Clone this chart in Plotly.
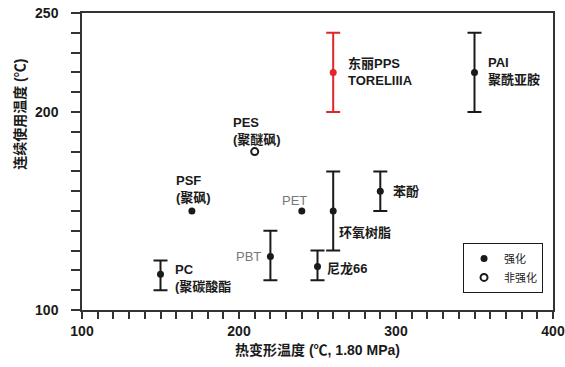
import plotly.graph_objects as go

# ---- data ----
names = ["PC", "PSF", "PES", "PBT", "PET", "尼龙66", "环氧树脂", "苯酚", "东丽PPS", "PAI"]
hdt = [150, 170, 210, 220, 240, 250, 260, 290, 260, 350]          # 热变形温度 (℃)
temp = [118, 150, 180, 127, 150, 122, 150, 160, 220, 220]         # 连续使用温度 (℃)
low = [110, None, None, 115, None, 115, 130, 150, 200, 200]
high = [125, None, None, 140, None, 130, 170, 170, 240, 240]
reinforced = [True, True, False, True, True, True, True, True, True, True]
highlight = ["东丽PPS"]

labels = {
    "PC": "PC<br>(聚碳酸酯",
    "PSF": "PSF<br>(聚砜)",
    "PES": "PES<br>(聚醚砜)",
    "PBT": "PBT",
    "PET": "PET",
    "尼龙66": "尼龙66",
    "环氧树脂": "环氧树脂",
    "苯酚": "苯酚",
    "东丽PPS": "东丽PPS<br>TORELIIIA",
    "PAI": "PAI<br>聚酰亚胺",
}
# label placement: (xanchor, xshift, yshift, grey?)
label_pos = {
    "PC": ("left", 12, -4, False),
    "PSF": ("left", -18, 22, False),
    "PES": ("left", -24, 21, False),
    "PBT": ("right", -7, 0, True),
    "PET": ("center", -7, 11, True),
    "尼龙66": ("left", 7, -2, False),
    "环氧树脂": ("left", 4, -21, False),
    "苯酚": ("left", 11, 0, False),
    "东丽PPS": ("left", 13, 0, False),
    "PAI": ("left", 11, 1, False),
}

FONT = "Liberation Sans, Arial, Noto Sans CJK SC, sans-serif"
INK = "#1a1a1a"
RED = "#e0262b"

fig = go.Figure()

def add_err(idx, color):
    xs = [hdt[i] for i in idx]
    ys = [temp[i] for i in idx]
    up = [high[i] - temp[i] for i in idx]
    dn = [temp[i] - low[i] for i in idx]
    fig.add_trace(go.Scatter(
        x=xs, y=ys, mode="markers", showlegend=False, hoverinfo="skip",
        marker=dict(color=color, size=7),
        error_y=dict(type="data", symmetric=False, array=up, arrayminus=dn,
                     color=color, thickness=2, width=7),
    ))

idx_err_black = [i for i in range(len(names)) if low[i] is not None and names[i] not in highlight]
idx_err_red = [i for i in range(len(names)) if low[i] is not None and names[i] in highlight]
add_err(idx_err_black, INK)
add_err(idx_err_red, RED)

idx_pt = [i for i in range(len(names)) if low[i] is None and reinforced[i]]
fig.add_trace(go.Scatter(
    x=[hdt[i] for i in idx_pt], y=[temp[i] for i in idx_pt], mode="markers",
    name="强化", marker=dict(color=INK, size=7),
))
idx_open = [i for i in range(len(names)) if not reinforced[i]]
fig.add_trace(go.Scatter(
    x=[hdt[i] for i in idx_open], y=[temp[i] for i in idx_open], mode="markers",
    name="非强化", marker=dict(color="white", size=7, line=dict(color=INK, width=2)),
))

for i, n in enumerate(names):
    xa, xs, ys, grey = label_pos[n]
    fig.add_annotation(
        x=hdt[i], y=temp[i], xref="x", yref="y", text=labels[n], showarrow=False,
        xanchor=xa, yanchor="middle", xshift=xs, yshift=ys, align="left",
        font=dict(family=FONT, size=13, color="#777777" if grey else INK,
                  weight="normal" if grey else "bold"),
    )

fig.add_annotation(
    x=-0.132, y=0.66, xref="paper", yref="paper", text="连续使用温度 (℃)",
    showarrow=False, textangle=-90, xanchor="center", yanchor="middle",
    font=dict(family=FONT, size=14, color=INK, weight="bold"),
)

fig.update_layout(
    width=565, height=367,
    margin=dict(l=82, r=12, t=13, b=57, autoexpand=False),
    paper_bgcolor="white", plot_bgcolor="white",
    font=dict(family=FONT, color=INK),
    legend=dict(
        x=0.809, y=0.226, xanchor="left", yanchor="top",
        bordercolor=INK, borderwidth=1, bgcolor="white",
        font=dict(family=FONT, size=11, color=INK),
        itemwidth=30, tracegroupgap=0,
    ),
)
fig.update_xaxes(
    range=[100, 400], tickvals=[100, 200, 300, 400], automargin=False,
    showgrid=False, zeroline=False,
    showline=True, linecolor="#333333", linewidth=1.5, mirror=True,
    ticks="outside", ticklen=7, tickwidth=1.5, tickcolor="#333333",
    minor=dict(dtick=10, ticks="outside", ticklen=7, tickwidth=1.5, tickcolor="#333333"),
    tickfont=dict(family=FONT, size=14, color=INK, weight="bold"),
    title=dict(text="热变形温度 (℃, 1.80 MPa)", standoff=8,
               font=dict(family=FONT, size=14, color=INK, weight="bold")),
)
fig.update_yaxes(
    range=[100, 250], tickvals=[100, 200, 250], automargin=False,
    showgrid=False, zeroline=False,
    showline=True, linecolor="#333333", linewidth=1.5, mirror=True,
    ticks="outside", ticklen=9, tickwidth=1.5, tickcolor="#333333",
    minor=dict(dtick=10, ticks="outside", ticklen=9, tickwidth=1.5, tickcolor="#333333"),
    tickfont=dict(family=FONT, size=14, color=INK, weight="bold"),
    ticklabelstandoff=10,
)

fig.write_html("out.html")
